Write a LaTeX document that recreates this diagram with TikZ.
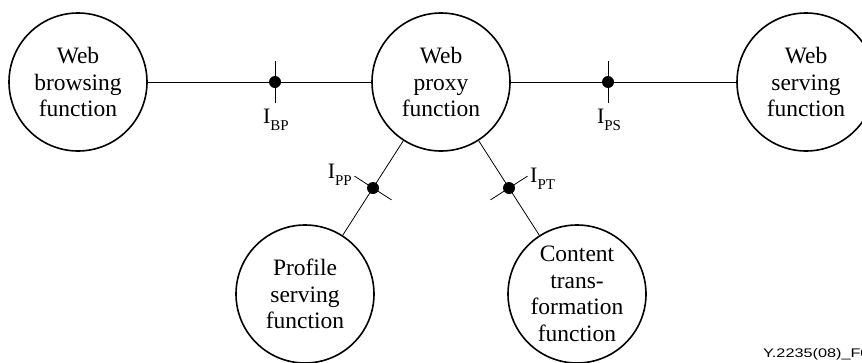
\documentclass[tikz,border=0pt]{standalone}
\usepackage{fontspec}
\setmainfont{Liberation Serif}
\newfontfamily\footfont{Liberation Sans}
\usetikzlibrary{calc}
\newcommand\ilsub[1]{I\raisebox{-7pt}{\fontsize{15}{15}\selectfont #1}}
\tikzset{
  func/.style={circle, draw, line width=1.6pt, minimum size=138pt, inner sep=0pt,
    align=center, font=\fontsize{23.5}{26.5}\selectfont},
  conn/.style={line width=0.8pt},
  dotnode/.style={circle, fill, inner sep=0pt, minimum size=12pt},
  lab/.style={inner sep=0pt, font=\fontsize{22}{22}\selectfont},
}
\begin{document}
\begin{tikzpicture}[x=1pt, y=-1pt]
\useasboundingbox (0,0) rectangle (862,362);
\clip (0,0) rectangle (862,362);
\node[func] (B) at (78,82) {Web\\browsing\\function};
\node[func] (M) at (441,82) {Web\\proxy\\function};
\node[func] (S) at (806,82) {Web\\serving\\function};
\node[func] (P) at (305,294) {Profile\\serving\\function};
\node[func] (C) at (577,294) {Content\\trans-\\formation\\function};
\draw[conn] (B) -- (M);
\draw[conn] (M) -- (S);
\draw[conn] (M) -- (P);
\draw[conn] (M) -- (C);
\node[dotnode] (d1) at (275,82) {};
\node[dotnode] (d2) at (608,82) {};
\node[dotnode] (d3) at ($(M.center)!0.5!(P.center)$) {};
\node[dotnode] (d4) at ($(M.center)!0.5!(C.center)$) {};
\draw[conn] ($(d1)+(0,-21)$) -- ($(d1)+(0,21)$);
\draw[conn] ($(d2)+(0,-21)$) -- ($(d2)+(0,21)$);
\draw[conn] ($(d3)!22pt!90:(M)$) -- ($(d3)!22pt!-90:(M)$);
\draw[conn] ($(d4)!22pt!90:(M)$) -- ($(d4)!22pt!-90:(M)$);
\node[lab, anchor=north] (lbp) at (276,109) {\ilsub{BP}};
\node[lab, anchor=north] (lps) at (609,109) {\ilsub{PS}};
\node[lab, anchor=north east] (lpp) at (352,164) {\ilsub{PP}};
\node[lab, anchor=north west] (lpt) at (530,168) {\ilsub{PT}};
\node[anchor=base west, inner sep=0pt, font=\footfont\fontsize{12.5}{12.5}\selectfont] (fig) at (763,357) {\scalebox{1.3}[1]{Y.2235(08)\_F01}};
\end{tikzpicture}
\end{document}
